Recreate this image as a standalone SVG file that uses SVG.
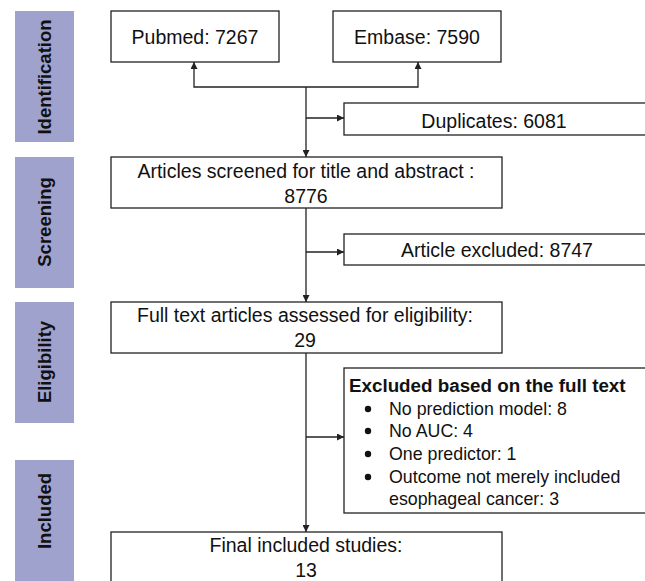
<svg xmlns="http://www.w3.org/2000/svg" width="645" height="581" viewBox="0 0 645 581">
<style>
.lab{fill:#A0A2CE}
.lt{font-family:"Liberation Sans",Arial,sans-serif;font-weight:bold;font-size:18.5px;fill:#111;text-anchor:middle}
.box{fill:#fff;stroke:#222;stroke-width:1.3}
.t{font-family:"Liberation Sans",Arial,sans-serif;font-size:19.5px;fill:#111;text-anchor:middle}
.s{font-family:"Liberation Sans",Arial,sans-serif;font-size:17.8px;fill:#111}
.b{font-family:"Liberation Sans",Arial,sans-serif;font-size:18.8px;font-weight:bold;fill:#111}
.c{fill:none;stroke:#222;stroke-width:1.3}
</style>
<defs>
<marker id="ah" viewBox="0 0 10 10" refX="10" refY="5" markerWidth="7" markerHeight="7" markerUnits="userSpaceOnUse" orient="auto">
<path d="M0,0 L10,5 L0,10 z" fill="#222"/>
</marker>
</defs>
<rect width="645" height="581" fill="#fff"/>
<g id="phase-identification"><rect class="lab" x="15" y="11" width="59" height="131"/><text class="lt" transform="translate(51,77) rotate(-90)">Identification</text></g>
<g id="phase-screening"><rect class="lab" x="15" y="157" width="59" height="131"/><text class="lt" transform="translate(51,222) rotate(-90)">Screening</text></g>
<g id="phase-eligibility"><rect class="lab" x="15" y="302" width="59" height="121"/><text class="lt" transform="translate(51,362) rotate(-90)">Eligibility</text></g>
<g id="phase-included"><rect class="lab" x="15" y="460" width="59" height="125"/><text class="lt" transform="translate(51,511) rotate(-90)">Included</text></g>

<g id="pubmed"><rect class="box" x="111" y="11" width="168" height="51"/><text class="t" x="195" y="44">Pubmed: 7267</text></g>
<g id="embase"><rect class="box" x="333" y="11" width="168" height="51"/><text class="t" x="417" y="44">Embase: 7590</text></g>
<g id="duplicates"><rect class="box" x="344" y="103" width="305" height="32"/><text class="t" x="494" y="128">Duplicates: 6081</text></g>
<g id="screened"><rect class="box" x="111" y="157" width="391" height="51"/><text class="t" x="306" y="178">Articles screened for title and abstract :</text><text class="t" x="306" y="203">8776</text></g>
<g id="excluded1"><rect class="box" x="344" y="234" width="305" height="31"/><text class="t" x="497" y="257">Article excluded: 8747</text></g>
<g id="fulltext"><rect class="box" x="111" y="302" width="391" height="51"/><text class="t" x="305" y="322">Full text articles assessed for eligibility:</text><text class="t" x="305" y="347">29</text></g>
<g id="excluded2"><rect class="box" x="344" y="368" width="305" height="145"/>
<text class="b" x="349" y="392">Excluded based on the full text</text>
<circle cx="368" cy="409" r="3.2" fill="#111"/><text class="s" x="389" y="415">No prediction model: 8</text>
<circle cx="368" cy="431" r="3.2" fill="#111"/><text class="s" x="389" y="437">No AUC: 4</text>
<circle cx="368" cy="454" r="3.2" fill="#111"/><text class="s" x="389" y="460">One predictor: 1</text>
<circle cx="368" cy="477" r="3.2" fill="#111"/><text class="s" x="389" y="483">Outcome not merely included</text>
<text class="s" x="389" y="505">esophageal cancer: 3</text></g>
<g id="final"><rect class="box" x="111" y="532" width="391" height="60"/><text class="t" x="306" y="552">Final included studies:</text><text class="t" x="306" y="577">13</text></g>

<g id="connectors">
<path class="c" d="M306,87 H194 V62" marker-end="url(#ah)"/>
<path class="c" d="M306,87 H418 V62" marker-end="url(#ah)"/>
<path class="c" d="M306,87 V157" marker-end="url(#ah)"/>
<path class="c" d="M306,118 H344" marker-end="url(#ah)"/>
<path class="c" d="M306,208 V302" marker-end="url(#ah)"/>
<path class="c" d="M306,252 H344" marker-end="url(#ah)"/>
<path class="c" d="M306,353 V532" marker-end="url(#ah)"/>
<path class="c" d="M306,437 H344" marker-end="url(#ah)"/>
</g>
</svg>
